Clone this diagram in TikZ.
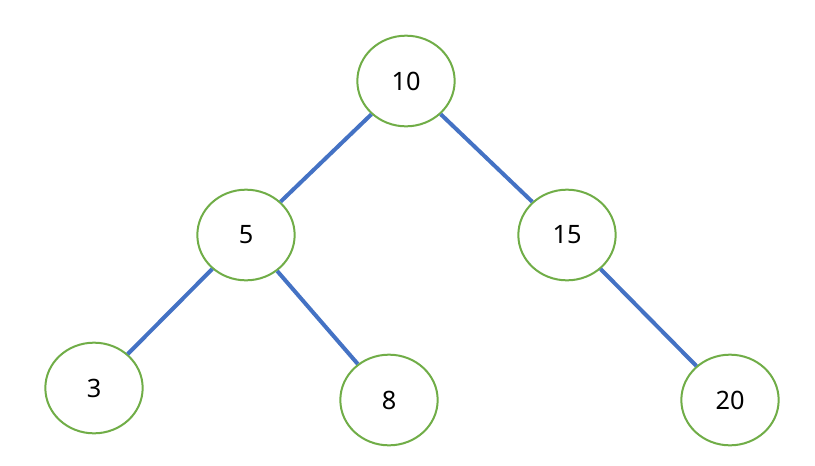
\documentclass[tikz,border=0pt]{standalone}
\usepackage{fontspec}
\setmainfont{Noto Sans}
\usepackage{tikz}
\usetikzlibrary{
    shapes.geometric
}

\definecolor{leafgreen}{HTML}{70AD47}
\definecolor{edgeblue}{HTML}{4472C4}

\tikzset{
    treenode/.style={ellipse, draw=leafgreen, line width=1.5pt, fill=white,
        minimum width=73pt, minimum height=68pt, inner sep=0pt,
        font=\fontsize{19}{22}\selectfont},
    treeedge/.style={draw=edgeblue, line width=3pt}
}

\begin{document}
\begin{tikzpicture}[x=0.75pt, y=-0.75pt]

% Canvas
\useasboundingbox (0,0) rectangle (815,465);

% Nodes
\node[treenode] (n10) at (406,81) {10};
\node[treenode] (n5) at (246,235) {5};
\node[treenode] (n15) at (567,235) {15};
\node[treenode] (n3) at (94,388) {3};
\node[treenode] (n8) at (389,400) {8};
\node[treenode] (n20) at (730,400) {20};

% Edges
\draw[treeedge] (n10) -- (n5);
\draw[treeedge] (n10) -- (n15);
\draw[treeedge] (n5) -- (n3);
\draw[treeedge] (n5) -- (n8);
\draw[treeedge] (n15) -- (n20);

\end{tikzpicture}
\end{document}
